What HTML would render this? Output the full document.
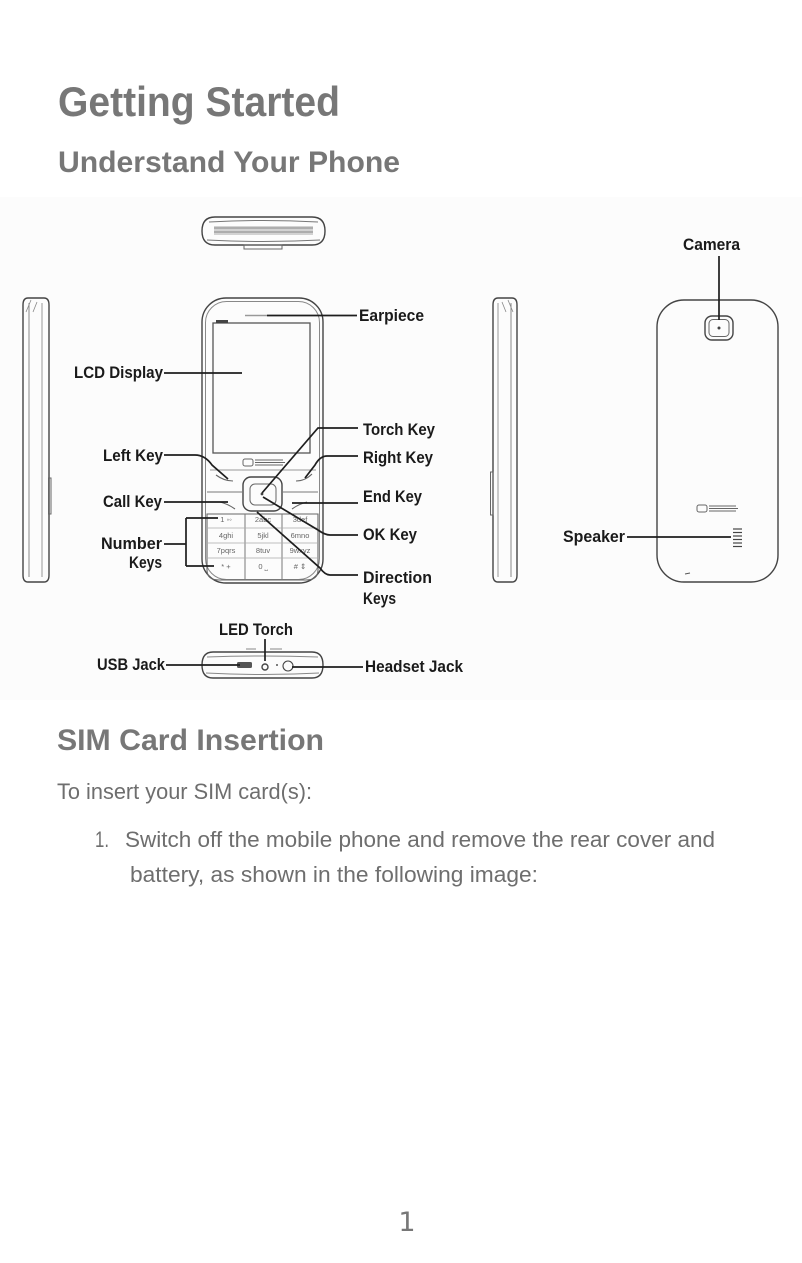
<!DOCTYPE html>
<html>
<head>
<meta charset="utf-8">
<style>
html,body{margin:0;padding:0;background:#fff;}
svg{display:block;}
</style>
</head>
<body>
<svg width="802" height="1263" viewBox="0 0 802 1263" xmlns="http://www.w3.org/2000/svg">
  <rect x="0" y="0" width="802" height="1263" fill="#ffffff"/>

  <!-- Headings -->
  <g font-family="'Liberation Sans', Arial, sans-serif" font-weight="bold" fill="#777777">
    <text x="58" y="116" font-size="42" textLength="282" lengthAdjust="spacingAndGlyphs">Getting Started</text>
    <text x="58" y="172" font-size="30" textLength="342" lengthAdjust="spacingAndGlyphs">Understand Your Phone</text>
    <text x="57" y="750" font-size="30" textLength="267" lengthAdjust="spacingAndGlyphs">SIM Card Insertion</text>
  </g>

  <!-- Body text -->
  <g font-family="'Liberation Sans', Arial, sans-serif" fill="#6e6e6e" font-size="22">
    <text x="57" y="799" textLength="255" lengthAdjust="spacingAndGlyphs">To insert your SIM card(s):</text>
    <text x="95" y="847" textLength="14" lengthAdjust="spacingAndGlyphs">1.</text>
    <text x="125" y="847" textLength="590" lengthAdjust="spacingAndGlyphs">Switch off the mobile phone and remove the rear cover and</text>
    <text x="130" y="882" textLength="408" lengthAdjust="spacingAndGlyphs">battery, as shown in the following image:</text>
  </g>

  <!-- Page number -->
  <text x="407" y="1231" font-family="'DejaVu Sans', sans-serif" font-size="27" fill="#777777" text-anchor="middle">1</text>

  <!-- Diagram background -->
  <rect x="0" y="197" width="802" height="503" fill="#fcfcfc"/>

  <!-- ============ TOP VIEW PHONE ============ -->
  <g fill="none" stroke="#444" stroke-width="1.4">
    <path d="M215 217 H312 Q325 217 325 231 Q325 245 312 245 H215 Q202 245 202 231 Q202 217 215 217 Z"/>
    <path d="M209 222 Q263 219 318 222" stroke="#777" stroke-width="1"/>
    <path d="M207 240 Q263 243 320 240" stroke="#777" stroke-width="1"/>
  </g>
  <rect x="214" y="226" width="99" height="9" fill="#c0c0c0" opacity="0.7"/>
  <line x1="214" y1="228" x2="313" y2="228" stroke="#888" stroke-width="1"/>
  <line x1="214" y1="232" x2="313" y2="232" stroke="#888" stroke-width="1"/>
  <rect x="244" y="245" width="38" height="4" fill="none" stroke="#666" stroke-width="1"/>

  <!-- ============ LEFT SIDE PHONE ============ -->
  <g fill="none" stroke="#444" stroke-width="1.4">
    <path d="M28 298 H44 Q49 298 49 305 V575 Q49 582 44 582 H28 Q23 582 23 575 V305 Q23 298 28 298 Z"/>
    <line x1="29" y1="303" x2="29" y2="577" stroke="#888" stroke-width="1"/>
    <line x1="42" y1="303" x2="42" y2="577" stroke="#999" stroke-width="1"/>
    <path d="M26 312 L31 300 M33 312 L37 302" stroke="#888" stroke-width="0.8"/>
    <rect x="48.5" y="478" width="2.5" height="36" stroke="#666" stroke-width="1"/>
  </g>

  <!-- ============ FRONT PHONE ============ -->
  <g fill="none" stroke="#444" stroke-width="1.4">
    <rect x="202" y="298" width="121" height="285" rx="24" ry="24"/>
    <rect x="205.5" y="301.5" width="114" height="278" rx="21" ry="21" stroke="#888" stroke-width="1"/>
    <!-- screen -->
    <rect x="213" y="323" width="97" height="130" stroke="#555" stroke-width="1.3"/>
    <line x1="210" y1="470" x2="316" y2="470" stroke="#999" stroke-width="1"/>
    <!-- separator lines -->
    <line x1="207" y1="492" x2="242" y2="492" stroke="#777" stroke-width="1"/>
    <line x1="283" y1="492" x2="318" y2="492" stroke="#777" stroke-width="1"/>
    <!-- nav pad -->
    <rect x="243" y="477" width="39" height="34" rx="8" ry="8"/>
    <rect x="250" y="484" width="26" height="21" rx="5" ry="5" stroke="#666" stroke-width="1"/>
    <!-- soft key marks -->
    <path d="M216 475 Q224 481 233 481" stroke="#666" stroke-width="1.1"/>
    <path d="M296 481 Q305 481 312 474" stroke="#666" stroke-width="1.1"/>
    <path d="M220 502 Q228 504 235 509" stroke="#666" stroke-width="1.1"/>
    <path d="M292 509 Q299 504 307 502" stroke="#666" stroke-width="1.1"/>
    <!-- keypad -->
    <path d="M207 514 H318 V570 Q318 580 306 580 H219 Q207 580 207 570 Z" stroke="#666" stroke-width="1.1"/>
    <line x1="245" y1="514" x2="245" y2="580" stroke="#777" stroke-width="1"/>
    <line x1="282" y1="514" x2="282" y2="580" stroke="#777" stroke-width="1"/>
    <line x1="207" y1="528" x2="318" y2="528" stroke="#aaa" stroke-width="0.8"/>
    <line x1="207" y1="543" x2="318" y2="543" stroke="#aaa" stroke-width="0.8"/>
    <line x1="207" y1="558" x2="318" y2="558" stroke="#aaa" stroke-width="0.8"/>
  </g>
  <!-- status bar -->
  <rect x="216" y="320" width="12" height="3" fill="#444"/>
  <!-- earpiece light part -->
  <line x1="245" y1="315.5" x2="267" y2="315.5" stroke="#999" stroke-width="1.5"/>
  <!-- logo -->
  <g stroke="#666" stroke-width="1" fill="none">
    <rect x="243" y="459" width="10" height="7" rx="2"/>
    <path d="M255 462.5 H285 M255 460 H283 M255 465 H283"/>
  </g>
  <circle cx="262" cy="494" r="1.4" fill="#444"/>
  <!-- key labels -->
  <g font-family="'Liberation Sans', Arial, sans-serif" font-size="7.5" fill="#666" text-anchor="middle">
    <text x="226" y="522">1 ◦◦</text>
    <text x="263" y="522">2abc</text>
    <text x="300" y="522">3def</text>
    <text x="226" y="538">4ghi</text>
    <text x="263" y="538">5jkl</text>
    <text x="300" y="538">6mno</text>
    <text x="226" y="553">7pqrs</text>
    <text x="263" y="553">8tuv</text>
    <text x="300" y="553">9wxyz</text>
    <text x="226" y="569">* +</text>
    <text x="263" y="569">0 ⎵</text>
    <text x="300" y="569"># ⇕</text>
  </g>

  <!-- ============ BOTTOM VIEW PHONE ============ -->
  <g fill="none" stroke="#444" stroke-width="1.4">
    <path d="M213 652 H312 Q323 652 323 665 Q323 678 312 678 H213 Q202 678 202 665 Q202 652 213 652 Z"/>
    <path d="M207 657 Q263 655 318 657" stroke="#888" stroke-width="1"/>
    <path d="M206 673 Q263 676 319 673" stroke="#888" stroke-width="1"/>
    <circle cx="265" cy="667" r="3"/>
    <circle cx="288" cy="666" r="5" stroke-width="1.1"/>
  </g>
  <rect x="237" y="662" width="15" height="6" rx="1.5" fill="#555"/>
  <circle cx="277" cy="665" r="1" fill="#555"/>
  <line x1="246" y1="649" x2="256" y2="649" stroke="#888" stroke-width="1"/>
  <line x1="270" y1="649" x2="282" y2="649" stroke="#888" stroke-width="1"/>

  <!-- ============ RIGHT SIDE PHONE ============ -->
  <g fill="none" stroke="#444" stroke-width="1.4">
    <path d="M498 298 H512 Q517 298 517 305 V575 Q517 582 512 582 H498 Q493 582 493 575 V305 Q493 298 498 298 Z"/>
    <line x1="498" y1="303" x2="498" y2="577" stroke="#999" stroke-width="1"/>
    <line x1="511" y1="303" x2="511" y2="577" stroke="#888" stroke-width="1"/>
    <path d="M508 300 L513 312 M502 302 L506 312" stroke="#888" stroke-width="0.8"/>
    <rect x="490.5" y="472" width="2.5" height="43" stroke="#666" stroke-width="1"/>
  </g>

  <!-- ============ BACK PHONE ============ -->
  <g fill="none" stroke="#444" stroke-width="1.4">
    <rect x="657" y="300" width="121" height="282" rx="27" ry="27"/>
    <rect x="705" y="316" width="28" height="24" rx="7" ry="7"/>
    <rect x="709" y="319.5" width="20" height="17" rx="4" ry="4" stroke="#666" stroke-width="1"/>
  </g>
  <circle cx="719" cy="328" r="1.5" fill="#444"/>
  <g stroke="#666" stroke-width="1" fill="none">
    <rect x="697" y="505" width="10" height="7" rx="2"/>
    <path d="M709 508.5 H738 M709 506 H736 M709 511 H736"/>
  </g>
  <g stroke="#444" stroke-width="1.2">
    <line x1="733" y1="529" x2="742" y2="529"/>
    <line x1="733" y1="532.5" x2="742" y2="532.5"/>
    <line x1="733" y1="536" x2="742" y2="536"/>
    <line x1="733" y1="539.5" x2="742" y2="539.5"/>
    <line x1="733" y1="543" x2="742" y2="543"/>
    <line x1="733" y1="546.5" x2="742" y2="546.5"/>
  </g>
  <line x1="685" y1="574" x2="690" y2="573" stroke="#555" stroke-width="1"/>

  <!-- ============ CONNECTOR LINES ============ -->
  <g fill="none" stroke="#1e1e1e" stroke-width="1.7">
    <path d="M267 315.5 H357"/>
    <path d="M164 373 H242"/>
    <path d="M358 428 H318 L262 493"/>
    <path d="M164 455 H195 Q205 455 212 465 L228 479"/>
    <path d="M358 456 H327 Q320 456 315 465 L305 478"/>
    <path d="M164 502 H228"/>
    <path d="M358 503 H292"/>
    <path d="M358 535 H330 Q325 535 318 530 L263 497"/>
    <path d="M358 575 H330 Q325 575 320 568 L257 512"/>
    <path d="M164 544 H186 M186 518 V566 M186 518 H218 M186 566 H214"/>
    <path d="M265 639 V661"/>
    <path d="M166 665 H240"/>
    <path d="M292 667 H363"/>
    <path d="M719 256 V320"/>
    <path d="M627 537 H731"/>
  </g>

  <!-- ============ LABELS ============ -->
  <g font-family="'Liberation Sans', Arial, sans-serif" font-weight="bold" font-size="17" fill="#1a1a1a">
    <text x="359" y="321" textLength="65" lengthAdjust="spacingAndGlyphs">Earpiece</text>
    <text x="74" y="378" textLength="89" lengthAdjust="spacingAndGlyphs">LCD Display</text>
    <text x="363" y="435" textLength="72" lengthAdjust="spacingAndGlyphs">Torch Key</text>
    <text x="103" y="461" textLength="60" lengthAdjust="spacingAndGlyphs">Left Key</text>
    <text x="363" y="463" textLength="70" lengthAdjust="spacingAndGlyphs">Right Key</text>
    <text x="103" y="507" textLength="59" lengthAdjust="spacingAndGlyphs">Call Key</text>
    <text x="363" y="502" textLength="59" lengthAdjust="spacingAndGlyphs">End Key</text>
    <text x="363" y="540" textLength="54" lengthAdjust="spacingAndGlyphs">OK Key</text>
    <text x="101" y="549" textLength="61" lengthAdjust="spacingAndGlyphs">Number</text>
    <text x="129" y="568" textLength="33" lengthAdjust="spacingAndGlyphs">Keys</text>
    <text x="363" y="583" textLength="69" lengthAdjust="spacingAndGlyphs">Direction</text>
    <text x="363" y="604" textLength="33" lengthAdjust="spacingAndGlyphs">Keys</text>
    <text x="219" y="635" textLength="74" lengthAdjust="spacingAndGlyphs">LED Torch</text>
    <text x="97" y="670" textLength="68" lengthAdjust="spacingAndGlyphs">USB Jack</text>
    <text x="365" y="672" textLength="98" lengthAdjust="spacingAndGlyphs">Headset Jack</text>
    <text x="683" y="250" textLength="57" lengthAdjust="spacingAndGlyphs">Camera</text>
    <text x="563" y="542" textLength="62" lengthAdjust="spacingAndGlyphs">Speaker</text>
  </g>
</svg>
</body>
</html>
